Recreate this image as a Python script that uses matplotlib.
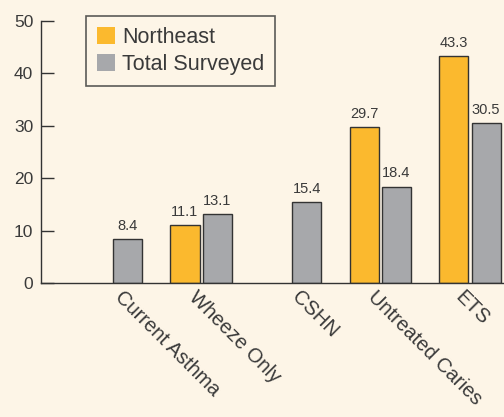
import matplotlib
matplotlib.use("Agg")
from matplotlib import pyplot as plt
from matplotlib.patches import Patch
import numpy as np

categories = ["Current Asthma", "Wheeze Only", "CSHN", "Untreated Caries", "ETS"]
northeast = [None, 11.1, None, 29.7, 43.3]
total_surveyed = [8.4, 13.1, 15.4, 18.4, 30.5]
y_ticks = [0, 10, 20, 30, 40, 50]

BG = "#fdf5e7"
ORANGE = "#fbb92e"
GRAY = "#a7a8ab"
EDGE = "#333333"
TEXT = "#3a3a3a"

plt.rcParams['font.family'] = ['Liberation Sans', 'DejaVu Sans']

fig = plt.figure(figsize=(5.04, 4.17), dpi=100, facecolor=BG)
ax = fig.add_axes([0.0813, 0.3213, 0.9187, 0.6283], facecolor=BG)

x = np.arange(len(categories))
w = 0.325
off = 0.18

for i in range(len(categories)):
    if northeast[i] is not None:
        ax.bar(x[i] - off, northeast[i], w, color=ORANGE, edgecolor=EDGE, linewidth=1)
        ax.text(x[i] - off, northeast[i] + 1.2, f"{northeast[i]}", ha='center', va='bottom',
                fontsize=10.5, color=TEXT)
    ax.bar(x[i] + off, total_surveyed[i], w, color=GRAY, edgecolor=EDGE, linewidth=1)
    ax.text(x[i] + off, total_surveyed[i] + 1.2, f"{total_surveyed[i]}", ha='center', va='bottom',
            fontsize=10.5, color=TEXT)

ax.set_xlim(-0.787, 4.38)
ax.set_ylim(0, 50)
ax.set_yticks(y_ticks)
ax.tick_params(axis='y', direction='in', length=9, width=1, colors=EDGE, labelcolor=TEXT,
               labelsize=12.5, pad=5.5)

# small nudges so the slanted labels sit where the original put them
label_nudge = [0.15, -0.03, 0.12, -0.03, -0.05]
ax.set_xticks(x + np.array(label_nudge))
ax.set_xticklabels(categories, rotation=-45, ha='left', va='top', rotation_mode='anchor',
                   fontsize=14.5, color=TEXT)
ax.tick_params(axis='x', length=0, pad=3)

for s in ['top', 'right']:
    ax.spines[s].set_visible(False)
for s in ['left', 'bottom']:
    ax.spines[s].set_color(EDGE)
    ax.spines[s].set_linewidth(1)

handles = [Patch(facecolor=ORANGE, label="Northeast"),
           Patch(facecolor=GRAY, label="Total Surveyed")]
leg = ax.legend(handles=handles, loc='upper left', bbox_to_anchor=(0.097, 1.019),
                borderaxespad=0, fontsize=15.5, frameon=True, fancybox=False,
                handlelength=0.85, handleheight=0.85, handletextpad=0.35,
                labelspacing=0.3, borderpad=0.5, labelcolor=TEXT)
leg.get_frame().set_edgecolor(EDGE)
leg.get_frame().set_facecolor(BG)
leg.get_frame().set_linewidth(1.2)

fig.savefig("out.png", dpi=100, facecolor=BG)
